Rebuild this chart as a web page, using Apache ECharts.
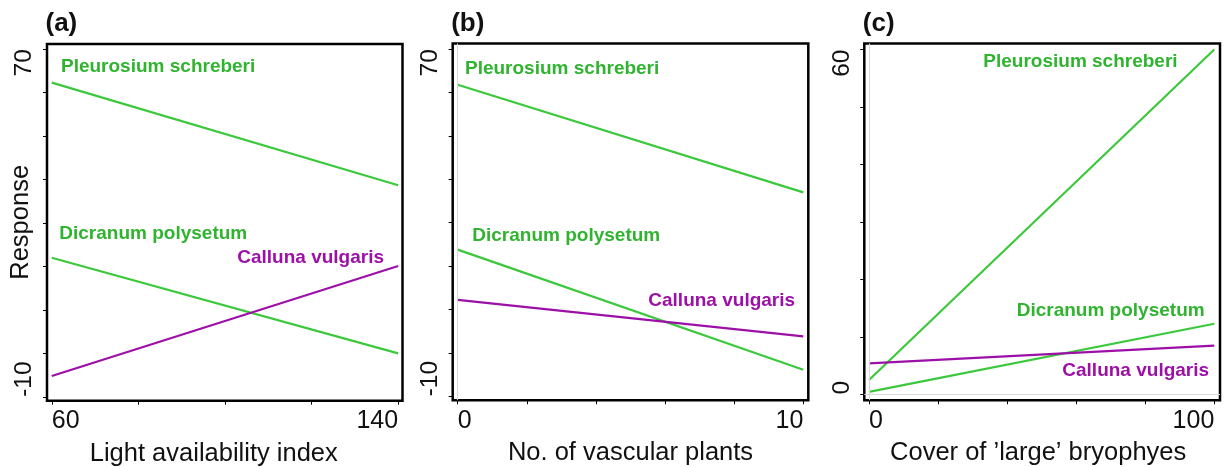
<!DOCTYPE html>
<html>
<head>
<meta charset="utf-8">
<script src="https://cdn.jsdelivr.net/npm/echarts@6/dist/echarts.min.js"></script>
<style>
html,body{margin:0;padding:0;background:#fff;}
#chart{width:1232px;height:467px;}
</style>
</head>
<body>
<div id="chart"></div>
<script>
// ---- data ----
const xA = [60, 140];
const pleurosiumA = [62.3, 38.7];
const dicranumA = [22.0, 0.0];
const callunaA = [-5.2, 20.1];

const xB = [0, 10];
const pleurosiumB = [61.8, 37.0];
const dicranumB = [23.8, -3.9];
const callunaB = [12.2, 3.8];

const xC = [0, 100];
const pleurosiumC = [2.5, 60.0];
const dicranumC = [0.45, 12.3];
const callunaC = [5.4, 8.5];

const xTicksA = [60, 80, 100, 120, 140];
const xLabelsA = [60, 140];
const xTicksB = [0, 2, 4, 6, 8, 10];
const xLabelsB = [0, 10];
const xTicksC = [0, 20, 40, 60, 80, 100];
const xLabelsC = [0, 100];
const yTicksAB = [-10, 0, 10, 20, 30, 40, 50, 60, 70];
const yLabelsAB = [-10, 70];
const yTicksC = [0, 10, 20, 30, 40, 50, 60];
const yLabelsC = [0, 60];

const xTitles = ['Light availability index', 'No. of vascular plants', 'Cover of \u2019large\u2019 bryophyes'];
const panelLetters = ['(a)', '(b)', '(c)'];
const speciesNames = ['Pleurosium schreberi', 'Dicranum polysetum', 'Calluna vulgaris'];

// ---- styling ----
const FONT = "'Liberation Sans', Arial, Helvetica, sans-serif";
const GREEN = '#3cc83c';
const GREEN_TXT = '#30b430';
const PURPLE = '#9c10a8';

const pair = (xs, ys) => xs.map((x, i) => [x, ys[i]]);

const grids = [
  {left: 47, top: 44, width: 355.5, height: 356.7},
  {left: 452.7, top: 43.5, width: 355.6, height: 356.7},
  {left: 864.3, top: 43.5, width: 355.7, height: 356.7}
].map(g => Object.assign({show: true, borderColor: '#000', borderWidth: 2.5, backgroundColor: 'transparent',
                          containLabel: false, outerBoundsMode: 'none'}, g));

function xAxis(idx, min, max, ticks, labels, title, namePad) {
  return {
    type: 'value', gridIndex: idx, min, max,
    axisLine: {show: false, onZero: false},
    splitLine: {show: false},
    axisTick: {show: true, length: 4, customValues: ticks, lineStyle: {color: '#000', width: 1}},
    axisLabel: {show: true, customValues: labels, margin: 8, fontSize: 25, fontFamily: FONT, color: '#111',
                alignMinLabel: 'left', alignMaxLabel: 'right', hideOverlap: false},
    name: title, nameLocation: 'middle', nameGap: 40,
    nameTextStyle: {fontSize: 25.5, fontFamily: FONT, color: '#111', padding: namePad || 0}
  };
}
function yAxis(idx, min, max, ticks, labels, title) {
  const a = {
    type: 'value', gridIndex: idx, min, max,
    axisLine: {show: false, onZero: false},
    splitLine: {show: false},
    axisTick: {show: true, length: 4, customValues: ticks, lineStyle: {color: '#000', width: 1}},
    axisLabel: {show: true, customValues: labels, rotate: 90, margin: 10, fontSize: 24.5, fontFamily: FONT, color: '#111',
                alignMinLabel: 'left', alignMaxLabel: 'right', hideOverlap: false}
  };
  if (title) {
    a.name = title; a.nameLocation = 'middle'; a.nameGap = 13; a.nameMoveOverlap = false;
    a.nameTextStyle = {fontSize: 25.5, fontFamily: FONT, color: '#111'};
  }
  return a;
}

function lineSeries(idx, xs, ys, color, extra) {
  return Object.assign({
    type: 'line', xAxisIndex: idx, yAxisIndex: idx,
    data: pair(xs, ys), showSymbol: false, symbol: 'none', silent: true,
    lineStyle: {color, width: 2.2}, z: 3, animation: false
  }, extra || {});
}
const zeroLine = (which) => ({
  symbol: 'none', silent: true, label: {show: false},
  lineStyle: {color: '#d8d8d8', width: 1, type: 'solid'},
  data: which
});

const series = [
  lineSeries(0, xA, pleurosiumA, GREEN),
  lineSeries(0, xA, dicranumA, GREEN),
  lineSeries(0, xA, callunaA, PURPLE),
  lineSeries(1, xB, pleurosiumB, GREEN, {markLine: zeroLine([{xAxis: 0}])}),
  lineSeries(1, xB, dicranumB, GREEN),
  lineSeries(1, xB, callunaB, PURPLE),
  lineSeries(2, xC, pleurosiumC, GREEN, {markLine: zeroLine([{xAxis: 0}, {yAxis: 0}])}),
  lineSeries(2, xC, dicranumC, GREEN),
  lineSeries(2, xC, callunaC, PURPLE)
];

// annotation text positions (pixels)
const labelPos = [
  [[61, 67, 'left'], [59.3, 234, 'left'], [384, 258, 'right']],
  [[465, 69, 'left'], [472.3, 236, 'left'], [648.3, 301, 'left']],
  [[983.3, 62, 'left'], [1016.7, 311, 'left'], [1062.3, 371, 'left']]
];
const graphic = [];
panelLetters.forEach((t, i) => {
  graphic.push({type: 'text', x: grids[i].left - 1.5, y: 23.5, z: 10,
    style: {text: t, font: 'bold 26px ' + FONT, fill: '#111', verticalAlign: 'middle'}});
});
labelPos.forEach(panel => panel.forEach((p, j) => {
  graphic.push({type: 'text', x: p[0], y: p[1], z: 10,
    style: {text: speciesNames[j], font: 'bold 19px ' + FONT, fill: j === 2 ? PURPLE : GREEN_TXT,
            align: p[2], verticalAlign: 'middle'}});
}));

const option = {
  animation: false,
  backgroundColor: '#fff',
  grid: grids,
  xAxis: [
    xAxis(0, 58.9, 141, xTicksA, xLabelsA, xTitles[0], [0, 22, 0, 0]),
    xAxis(1, -0.145, 10.145, xTicksB, xLabelsB, xTitles[1]),
    xAxis(2, -1.36, 101.65, xTicksC, xLabelsC, xTitles[2], [0, 8, 0, 0])
  ],
  yAxis: [
    yAxis(0, -10.9, 71.2, yTicksAB, yLabelsAB, 'Response'),
    yAxis(1, -10.9, 71.3, yTicksAB, yLabelsAB),
    yAxis(2, -1.0, 61.05, yTicksC, yLabelsC)
  ],
  series,
  graphic
};

const chart = echarts.init(document.getElementById('chart'), null, {renderer: 'canvas'});
chart.setOption(option);
</script>
</body>
</html>
